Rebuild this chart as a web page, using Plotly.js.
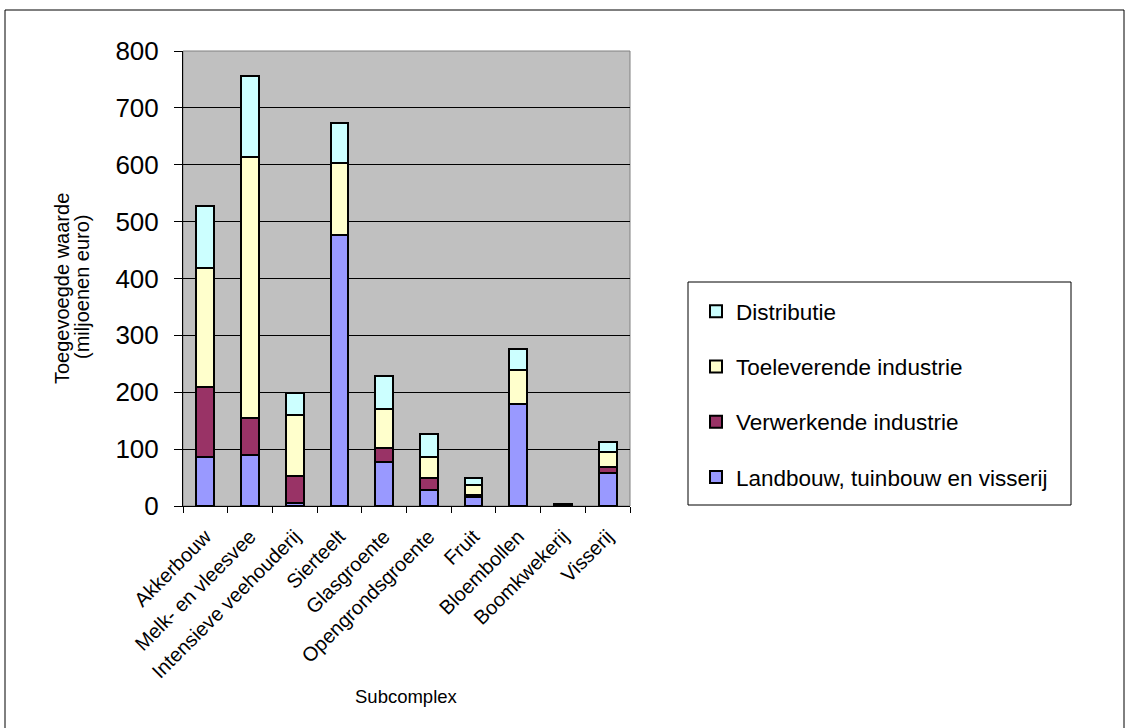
<!DOCTYPE html>
<html>
<head>
<meta charset="utf-8">
<script src="https://cdn.plot.ly/plotly-3.0.1.min.js"></script>
<style>
html,body{margin:0;padding:0;background:#fff;}
#chart{width:1128px;height:728px;}
</style>
</head>
<body>
<div id="chart"></div>
<script>
var categories = ["Akkerbouw","Melk- en vleesvee","Intensieve veehouderij","Sierteelt","Glasgroente","Opengrondsgroente","Fruit","Bloembollen","Boomkwekerij","Visserij"];
var landbouw     = [87, 90, 6, 477, 77, 28, 15, 179, 2, 58];
var verwerkend   = [123, 65, 47, 0, 25, 21, 5, 0, 0, 10];
var toeleverend  = [208, 458, 107, 126, 68, 37, 17, 60, 1, 27];
var distributie  = [109, 143, 39, 70, 59, 40, 12, 37, 0, 17];
var seriesNames  = ["Landbouw, tuinbouw en visserij","Verwerkende industrie","Toeleverende industrie","Distributie"];
var seriesColors = ["#9999FF","#993366","#FFFFCC","#CCFFFF"];
var yTicks = [0,100,200,300,400,500,600,700,800];
var yTitleLines = ["Toegevoegde waarde","(miljoenen euro)"];
var xTitle = "Subcomplex";

var FONT = 'Liberation Sans, Arial, sans-serif';
var seriesData = [landbouw, verwerkend, toeleverend, distributie];
var traces = seriesData.map(function(vals, i){
  return {
    type: 'bar',
    name: seriesNames[i],
    x: categories,
    y: vals,
    legendgroup: 'g' + i,
    legendrank: seriesData.length - i,
    marker: {color: seriesColors[i], line: {color: '#000000', width: 2}},
    hoverinfo: 'x+y+name'
  };
});

var L = 183, R = 630, T = 51, B = 506, W = 1128, H = 728;
var pw = R - L, ph = B - T;
function px(x){ return (x - L) / pw; }
function py(y){ return (B - y) / ph; }

var layout = {
  width: W, height: H,
  margin: {l: L, r: W - R, t: T, b: H - B, pad: 0},
  paper_bgcolor: '#FFFFFF',
  plot_bgcolor: '#C0C0C0',
  barmode: 'stack',
  bargap: 0.6,
  showlegend: true,
  font: {family: FONT, color: '#000000'},
  xaxis: {
    type: 'category',
    tickson: 'boundaries',
    ticks: 'outside', ticklen: 6, tickcolor: '#000000', tickwidth: 1,
    tickangle: -45,
    ticklabelstandoff: 10,
    tickfont: {size: 20, family: FONT},
    showline: true, linecolor: '#000000', linewidth: 1,
    showgrid: false, zeroline: false
  },
  yaxis: {
    range: [0, 800],
    tickvals: yTicks,
    ticktext: yTicks.map(String),
    ticks: 'outside', ticklen: 8, tickcolor: '#000000', tickwidth: 1,
    ticklabelstandoff: 10,
    tickfont: {size: 26, family: FONT},
    showline: true, linecolor: '#000000', linewidth: 1,
    showgrid: true, gridcolor: '#000000', gridwidth: 1,
    zeroline: false
  },
  legend: {
    x: px(696), y: py(290), xanchor: 'left', yanchor: 'top',
    bgcolor: 'rgba(0,0,0,0)', borderwidth: 0,
    font: {size: 22.5, family: FONT},
    traceorder: 'grouped',
    tracegroupgap: 23,
    itemwidth: 30
  },
  annotations: [
    {xref: 'paper', yref: 'paper', x: px(62), y: py(289), text: yTitleLines[0], textangle: -90,
     showarrow: false, xanchor: 'center', yanchor: 'middle', font: {size: 20, family: FONT}},
    {xref: 'paper', yref: 'paper', x: px(82), y: py(287), text: yTitleLines[1], textangle: -90,
     showarrow: false, xanchor: 'center', yanchor: 'middle', font: {size: 20, family: FONT}},
    {xref: 'paper', yref: 'paper', x: px(406), y: py(696), text: xTitle,
     showarrow: false, xanchor: 'center', yanchor: 'middle', font: {size: 18.5, family: FONT}}
  ],
  shapes: [
    {type: 'rect', xref: 'paper', yref: 'paper', x0: 0, x1: 1, y0: 0, y1: 1,
     line: {color: '#808080', width: 1}, layer: 'below'},
    {type: 'rect', xref: 'paper', yref: 'paper',
     x0: px(688), x1: px(1071), y0: py(505), y1: py(282),
     line: {color: '#000000', width: 1}, fillcolor: '#FFFFFF', layer: 'below'},
    {type: 'rect', xref: 'paper', yref: 'paper',
     x0: px(5), x1: px(1124), y0: py(760), y1: py(10),
     line: {color: '#000000', width: 1}, fillcolor: 'rgba(0,0,0,0)', layer: 'above'}
  ]
};

Plotly.newPlot('chart', traces, layout, {displayModeBar: false, staticPlot: true});
</script>
</body>
</html>
